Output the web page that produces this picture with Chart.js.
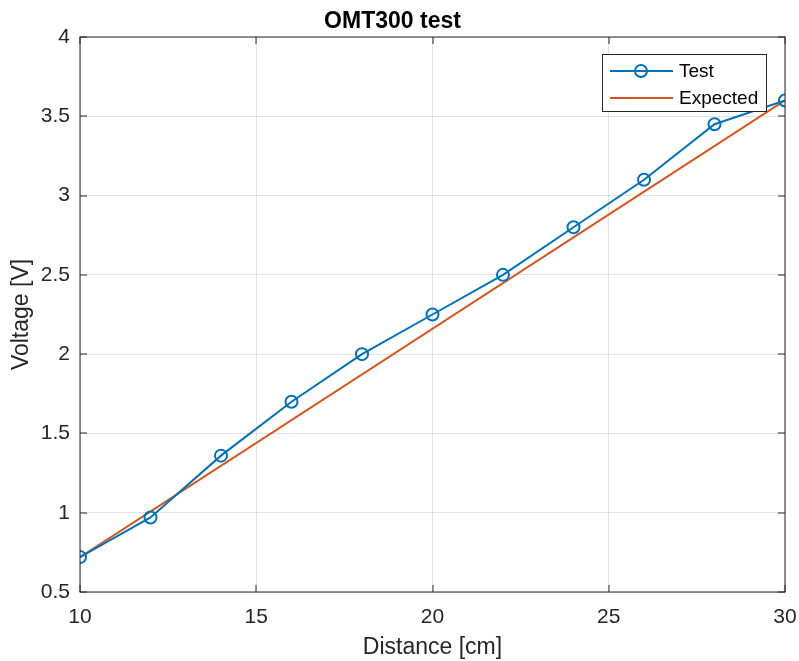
<!DOCTYPE html>
<html>
<head>
<meta charset="utf-8">
<script src="https://cdn.jsdelivr.net/npm/chart.js@4/dist/chart.umd.min.js"></script>
<style>
  html, body { margin: 0; padding: 0; background: #fff; }
  #wrap { width: 799px; height: 661px; }
</style>
</head>
<body>
<div id="wrap"><canvas id="myChart" width="799" height="661"></canvas></div>
<script>
// distance (cm) and measured voltage
var distance = [10, 12, 14, 16, 18, 20, 22, 24, 26, 28, 30];
var voltage = [0.72, 0.97, 1.36, 1.70, 2.00, 2.25, 2.50, 2.80, 3.10, 3.45, 3.60];
// expected line, end points only
var expectedX = [10, 30];
var expectedY = [0.72, 3.60];

var xTicks = [10, 15, 20, 25, 30];
var yTicks = [0.5, 1, 1.5, 2, 2.5, 3, 3.5, 4];

var fontFam = '"Liberation Sans", Arial, Helvetica, sans-serif';
var axisCol = '#262626';

function toPoints(xs, ys) {
	var pts = [];
	for (var i = 0; i < xs.length; i++) pts.push({x: xs[i], y: ys[i]});
	return pts;
}

// box around the axes plus inward tick marks (matlab style)
var boxPlugin = {
	id: 'boxPlugin',
	afterDatasetsDraw: function(chart) {
		var c = chart.ctx, a = chart.chartArea;
		var xs = chart.scales.x, ys = chart.scales.y;
		c.save();
		c.strokeStyle = axisCol;
		c.lineWidth = 1;
		c.beginPath();
		xTicks.forEach(function(v) {
			var px = Math.round(xs.getPixelForValue(v));
			c.moveTo(px, a.bottom); c.lineTo(px, a.bottom - 7);
			c.moveTo(px, a.top); c.lineTo(px, a.top + 7);
		});
		yTicks.forEach(function(v) {
			var py = Math.round(ys.getPixelForValue(v));
			c.moveTo(a.left, py); c.lineTo(a.left + 7, py);
			c.moveTo(a.right, py); c.lineTo(a.right - 7, py);
		});
		c.stroke();
		c.strokeRect(Math.round(a.left), Math.round(a.top), Math.round(a.right - a.left), Math.round(a.bottom - a.top));
		c.restore();
	}
};

// legend in the top right corner of the plot
var legendPlugin = {
	id: 'legendPlugin',
	afterDraw: function(chart) {
		var c = chart.ctx, a = chart.chartArea;
		var w = 164, h = 57;
		var x0 = a.right - 19 - w, y0 = a.top + 17;
		c.save();
		c.fillStyle = '#fff';
		c.fillRect(x0, y0, w, h);
		c.strokeStyle = axisCol;
		c.lineWidth = 1;
		c.strokeRect(x0 + 0.5, y0 + 0.5, w, h);
		c.font = '19px ' + fontFam;
		c.textBaseline = 'middle';
		chart.data.datasets.forEach(function(ds, i) {
			var ly = y0 + 17 + i * 27;
			c.strokeStyle = ds.borderColor;
			c.lineWidth = 2;
			c.beginPath();
			c.moveTo(x0 + 8, ly); c.lineTo(x0 + 71, ly);
			c.stroke();
			if (ds.pointRadius > 0) {
				c.beginPath();
				c.arc(x0 + 39, ly, 6, 0, Math.PI * 2);
				c.stroke();
			}
			c.fillStyle = '#000';
			c.fillText(ds.label, x0 + 77, ly + 1);
		});
		c.restore();
	}
};

var ctx = document.getElementById('myChart').getContext('2d');
var chart = new Chart(ctx, {
	type: 'line',
	data: {
		datasets: [{
			label: 'Test',
			data: toPoints(distance, voltage),
			borderColor: '#0072BD',
			backgroundColor: 'rgba(0,0,0,0)',
			borderWidth: 2,
			pointRadius: 6,
			pointBorderWidth: 2,
			pointBackgroundColor: 'rgba(0,0,0,0)',
			pointBorderColor: '#0072BD',
			tension: 0
		}, {
			label: 'Expected',
			data: toPoints(expectedX, expectedY),
			borderColor: '#D95319',
			backgroundColor: 'rgba(0,0,0,0)',
			borderWidth: 2,
			pointRadius: 0,
			tension: 0
		}]
	},
	options: {
		responsive: false,
		animation: false,
		layout: { padding: { left: 0, right: 14, top: 0, bottom: 0 } },
		plugins: {
			legend: { display: false },
			tooltip: { enabled: false },
			title: {
				display: true,
				text: 'OMT300 test',
				color: '#000',
				font: { family: fontFam, size: 23, weight: 'bold', lineHeight: 1.2 },
				padding: { top: 8, bottom: 1.4 }
			}
		},
		scales: {
			x: {
				type: 'linear',
				min: 10, max: 30,
				afterBuildTicks: function(s) { s.ticks = xTicks.map(function(v) { return {value: v}; }); },
				afterFit: function(s) { s.height = 69; s.paddingLeft = 0; s.paddingRight = 0; },
				grid: { color: 'rgba(38,38,38,0.13)', drawTicks: false },
				border: { display: false },
				ticks: {
					color: axisCol, padding: 13, maxRotation: 0,
					font: { family: fontFam, size: 21 },
					callback: function(v) { return String(v); }
				},
				title: {
					display: true, text: 'Distance [cm]', color: axisCol,
					font: { family: fontFam, size: 23 }, padding: { top: 0, bottom: 0 }
				}
			},
			y: {
				type: 'linear',
				min: 0.5, max: 4,
				afterBuildTicks: function(s) { s.ticks = yTicks.map(function(v) { return {value: v}; }); },
				afterFit: function(s) { s.width = 80; s.paddingTop = 0; s.paddingBottom = 0; },
				grid: { color: 'rgba(38,38,38,0.13)', drawTicks: false },
				border: { display: false },
				ticks: {
					color: axisCol, padding: 10,
					font: { family: fontFam, size: 21 },
					callback: function(v) { return String(v); }
				},
				title: {
					display: true, text: 'Voltage [V]', color: axisCol,
					font: { family: fontFam, size: 23 }, padding: { top: 8, bottom: 0 }
				}
			}
		}
	},
	plugins: [boxPlugin, legendPlugin]
});
</script>
</body>
</html>
